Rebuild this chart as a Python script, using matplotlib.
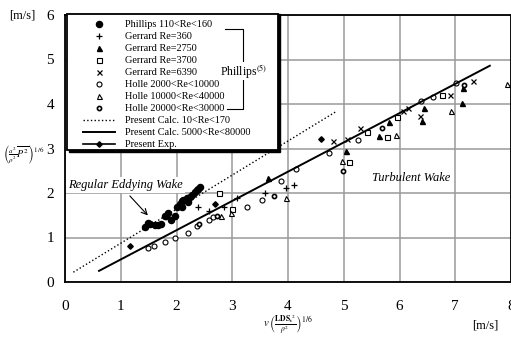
import matplotlib
matplotlib.use("Agg")
import matplotlib.pyplot as plt
from matplotlib.lines import Line2D
from matplotlib.patches import Rectangle

plt.rcParams['font.family'] = ['Liberation Serif', 'DejaVu Serif']
plt.rcParams['mathtext.fontset'] = 'stix'

# データ
phillips_x = [1.43, 1.52, 1.61, 1.73, 1.82, 1.85, 1.91, 2.00, 2.06, 2.09, 2.12, 2.18,
              2.24, 2.33, 2.39, 2.42, 1.49, 1.67, 1.79, 1.97, 2.10, 2.20, 2.28, 2.36]
phillips_y = [1.24, 1.30, 1.27, 1.31, 1.48, 1.54, 1.39, 1.69, 1.76, 1.69, 1.84, 1.88,
              1.92, 2.03, 2.10, 2.13, 1.33, 1.29, 1.49, 1.49, 1.81, 1.80, 1.96, 2.06]

g360_x = [2.39, 2.58, 2.85, 3.09, 3.58, 3.96, 4.11]
g360_y = [1.69, 1.60, 1.69, 1.89, 2.01, 2.12, 2.17]

g2750_x = [3.64, 5.04, 5.63, 5.81, 6.41, 6.44, 7.13, 7.14]
g2750_y = [2.33, 2.95, 3.27, 3.60, 3.61, 3.90, 4.03, 4.35]

g3700_x = [2.77, 2.99, 5.10, 5.42, 5.78, 5.96, 6.77]
g3700_y = [2.01, 1.63, 2.69, 3.36, 3.25, 3.70, 4.20]

g6390_x = [4.81, 5.05, 5.30, 6.06, 6.15, 6.37, 6.91, 7.32]
g6390_y = [3.17, 3.21, 3.45, 3.84, 3.90, 3.73, 4.20, 4.52]

h2000_x = [1.48, 1.60, 1.79, 1.98, 2.21, 2.37, 2.58, 2.66, 3.26, 3.54, 3.87, 4.15,
           4.73, 5.26, 6.39, 6.60, 7.01]
h2000_y = [0.76, 0.81, 0.90, 0.99, 1.10, 1.25, 1.39, 1.45, 1.69, 1.84, 2.26, 2.53,
           2.90, 3.18, 4.06, 4.16, 4.48]

h10000_x = [2.79, 2.97, 3.97, 4.96, 5.94, 6.93, 7.93]
h10000_y = [1.49, 1.56, 1.89, 2.71, 3.30, 3.85, 4.44]

h20000_x = [2.40, 2.73, 3.75, 4.99, 5.68, 7.16]
h20000_y = [1.30, 1.48, 1.94, 2.50, 3.46, 4.43]

calc_low_x = [0.15, 4.85]      # 10<Re<170
calc_low_y = [0.22, 3.82]
calc_high_x = [0.61, 7.62]     # 5000<Re<80000
calc_high_y = [0.25, 4.86]

exp_x = [1.16, 2.69, 4.60]
exp_y = [0.82, 1.76, 3.21]

fig = plt.figure(figsize=(5.11, 3.37), dpi=100)
ax = fig.add_axes([65/511, 1-282/337, 446/511, 267/337])
ax.set_xlim(0, 8)
ax.set_ylim(0, 6)

ax.grid(True, color='#9a9a9a', lw=1.1)
ax.set_axisbelow(True)
for s in ax.spines.values():
    s.set_linewidth(1.3)
ax.tick_params(length=0, labelsize=11, pad=8)
ax.tick_params(axis='x', pad=13)

ms = 3.6
ax.plot(phillips_x, phillips_y, 'o', color='k', ms=ms+0.8, label='Phillips 110<Re<160')
ax.plot(g360_x, g360_y, '+', color='k', ms=ms+1, mew=0.9, label='Gerrard Re=360')
ax.plot(g2750_x, g2750_y, '^', color='k', ms=ms, label='Gerrard Re=2750')
ax.plot(g3700_x, g3700_y, 's', mfc='white', mec='k', ms=ms, mew=0.8, label='Gerrard Re=3700')
ax.plot(g6390_x, g6390_y, 'x', color='k', ms=ms, mew=0.9, label='Gerrard Re=6390')
ax.plot(h2000_x, h2000_y, 'o', mfc='white', mec='k', ms=ms, mew=0.8, label='Holle 2000<Re<10000')
ax.plot(h10000_x, h10000_y, '^', mfc='white', mec='k', ms=ms, mew=0.8, label='Holle 10000<Re<40000')
ax.plot(h20000_x, h20000_y, 'o', mfc='white', mec='k', ms=ms-0.6, mew=1.2, label='Holle 20000<Re<30000')
ax.plot(calc_low_x, calc_low_y, ':', color='k', lw=1.0, label='Present Calc. 10<Re<170')
ax.plot(calc_high_x, calc_high_y, '-', color='k', lw=1.4, label='Present Calc. 5000<Re<80000')
ax.plot(exp_x, exp_y, 'D', color='k', ms=2.8, zorder=4)

# 凡例の枠（影付き）
ax.add_patch(Rectangle((0.0085, 0.486), 0.474, 0.518, transform=ax.transAxes,
                       facecolor='k', edgecolor='k', zorder=5, clip_on=False))
ax.add_patch(Rectangle((0.0045, 0.494), 0.474, 0.51, transform=ax.transAxes,
                       facecolor='white', edgecolor='k', lw=1.3, zorder=5, clip_on=False))

handles, labels = ax.get_legend_handles_labels()
handles.append(Line2D([], [], color='k', lw=1.2, marker='D', ms=2.8))
labels.append('Present Exp.')
leg = ax.legend(handles, labels, loc='upper left', bbox_to_anchor=(0.034, 0.992),
                borderaxespad=0, fontsize=7.4, labelspacing=0.27,
                handlelength=3.1, handletextpad=0.95, borderpad=0.3, frameon=False)
leg.set_zorder(6)

# Phillips の括弧
ax.plot([2.87, 3.19, 3.19, 2.90], [5.69, 5.69, 3.89, 3.89], color='k', lw=0.8,
        zorder=10, clip_on=False)
ax.text(3.20, 4.74, 'Phillips$^{(5)}$', fontsize=8.5, ha='center', va='center',
        zorder=11, bbox=dict(facecolor='white', edgecolor='none', pad=0.0))

ax.text(1.09, 2.18, 'Regular Eddying Wake', fontsize=9, style='italic', ha='center',
        va='center', bbox=dict(facecolor='white', edgecolor='none', pad=1.5))
ax.annotate('', xy=(1.52, 1.45), xytext=(1.13, 1.98),
            arrowprops=dict(arrowstyle='->', color='k', lw=0.8))
ax.text(6.21, 2.33, 'Turbulent Wake', fontsize=9, style='italic', ha='center', va='center')

fig.text(22/511, 1-15/337, '[m/s]', fontsize=9, ha='center', va='center')
fig.text(24/511, 1-155/337, r'$\left(\frac{a^2}{\rho^2}\overline{P^2}\right)^{1/6}$',
         fontsize=7.2, ha='center', va='center')
fig.text(288/511, 1-325/337, r'$v\,\left(\frac{\mathbf{LDS_t}^{2}}{\rho^{2}}\right)^{1/6}$',
         fontsize=7.8, ha='center', va='center')
fig.text(485/511, 1-326/337, '[m/s]', fontsize=9, ha='center', va='center')

fig.savefig('out.png', dpi=100)
